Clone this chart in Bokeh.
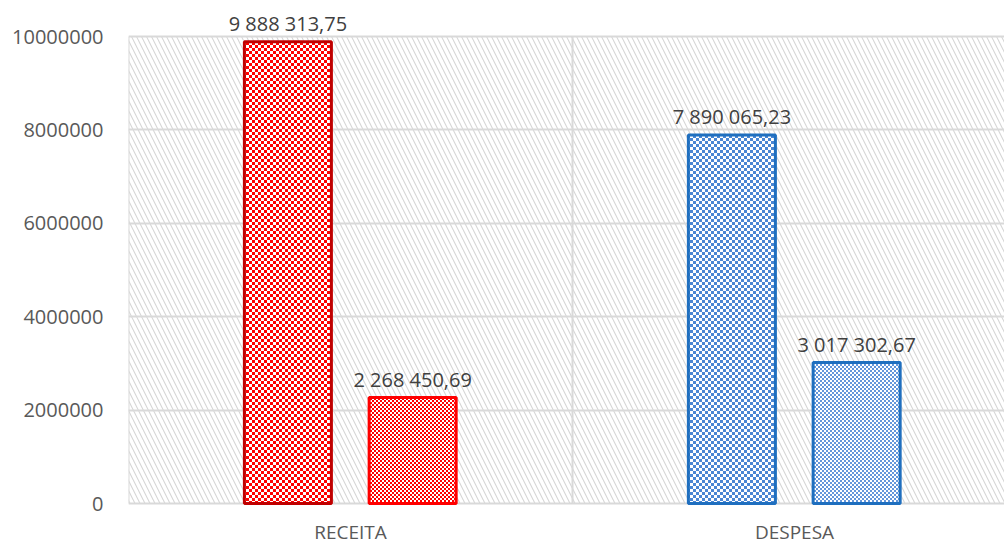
import zlib, struct, base64
from bokeh.plotting import figure
from bokeh.models import (ColumnDataSource, FixedTicker, BoxAnnotation, ImageURLTexture,
                          BasicTickFormatter, Range1d, LabelSet)
from bokeh.core.properties import value
from bokeh.embed import file_html
from bokeh.resources import INLINE

# ---- data ----
categories = ["RECEITA", "DESPESA"]
series1 = [9888313.75, 7890065.23]
series2 = [2268450.69, 3017302.67]
y_ticks = [0, 2000000, 4000000, 6000000, 8000000, 10000000]

FONT = "Open Sans"
TXT = "#595959"
Y_MAX = 10000000


def png_url(cell, rgb):
    w = h = 2 * cell
    raw = b""
    for yy in range(h):
        row = b"\x00"
        for xx in range(w):
            on = ((xx // cell) + (yy // cell)) % 2 == 0
            row += bytes(rgb) if on else b"\xff\xff\xff"
        raw += row

    def chunk(tag, data):
        return (struct.pack(">I", len(data)) + tag + data +
                struct.pack(">I", zlib.crc32(tag + data) & 0xffffffff))
    png = (b"\x89PNG\r\n\x1a\n" +
           chunk(b"IHDR", struct.pack(">IIBBBBB", w, h, 8, 2, 0, 0, 0)) +
           chunk(b"IDAT", zlib.compress(raw)) + chunk(b"IEND", b""))
    return "data:image/png;base64," + base64.b64encode(png).decode()


textures = {
    "r1": ImageURLTexture(url=png_url(3, (255, 0, 0)), repetition="repeat"),
    "r2": ImageURLTexture(url=png_url(2, (255, 0, 0)), repetition="repeat"),
    "b1": ImageURLTexture(url=png_url(3, (74, 134, 211)), repetition="repeat"),
    "b2": ImageURLTexture(url=png_url(2, (100, 150, 218)), repetition="repeat"),
}


def fmt(v):
    return f"{v:,.2f}".replace(",", " ").replace(".", ",")


centers = [i + 0.5 for i in range(len(categories))]
bounds = [float(i) for i in range(len(categories) + 1)]
xs, tops, pats, lcols, labels = [], [], [], [], []
offsets = [-0.141, 0.14]
pat_names = [["r1", "b1"], ["r2", "b2"]]
line_colors = [["#c00000", "#1f6fbf"], ["#ff0000", "#1f6fbf"]]
for s, ser in enumerate([series1, series2]):
    for i, v in enumerate(ser):
        xs.append(centers[i] + offsets[s])
        tops.append(v)
        pats.append(pat_names[s][i])
        lcols.append(line_colors[s][i])
        labels.append(fmt(v))

src = ColumnDataSource(dict(x=xs, top=tops, pat=pats, lc=lcols, lab=labels))
cat_src = ColumnDataSource(dict(x=centers, y=[0] * len(centers), name=categories))

# frame spans full canvas height: 0 at y=503, 10M at y=36
px_per_unit = 467 / Y_MAX
p = figure(width=1004, height=544, output_backend="svg", toolbar_location=None,
           x_range=Range1d(0, 1.973),
           y_range=Range1d(-41 / px_per_unit, Y_MAX + 36 / px_per_unit),
           min_border_left=128, min_border_right=0, min_border_top=0, min_border_bottom=0)
p.outline_line_color = None
p.background_fill_color = "white"
p.xaxis.visible = False

bg = BoxAnnotation(left=bounds[0], right=bounds[-1], bottom=0, top=Y_MAX, fill_alpha=0,
                   line_color=None, hatch_pattern="\\", hatch_color="#d6d6d6",
                   hatch_scale=10, hatch_weight=1.1, level="image")
p.add_layout(bg)

p.segment(x0=bounds, x1=bounds, y0=[0] * len(bounds), y1=[Y_MAX] * len(bounds),
          line_color="#d9d9d9", line_width=2)

p.vbar(x="x", top="top", bottom=0, width=0.196, source=src, fill_color="white",
       hatch_pattern="pat", hatch_extra=textures, line_color="lc", line_width=3)

lbl = LabelSet(x="x", y="top", text="lab", source=src, text_align="center",
               text_baseline="alphabetic", y_offset=11, text_font=value(FONT),
               text_font_size="20px", text_color="#404040")
p.add_layout(lbl)

cat_lbl = LabelSet(x="x", y="y", text="name", source=cat_src, text_align="center",
                   text_baseline="alphabetic", y_offset=-35, text_font=value(FONT),
                   text_font_size="19px", text_color=TXT)
p.add_layout(cat_lbl)

p.yaxis.ticker = FixedTicker(ticks=y_ticks)
p.yaxis.formatter = BasicTickFormatter(use_scientific=False)
p.yaxis.axis_line_color = None
p.yaxis.major_tick_line_color = None
p.yaxis.minor_tick_line_color = None
p.yaxis.major_label_text_font = FONT
p.yaxis.major_label_text_color = TXT
p.yaxis.major_label_text_font_size = "20px"
p.yaxis.major_label_standoff = 19

p.ygrid.grid_line_color = "#d9d9d9"
p.ygrid.grid_line_width = 2
p.xgrid.visible = False

open("out.html", "w").write(file_html(p, INLINE))
